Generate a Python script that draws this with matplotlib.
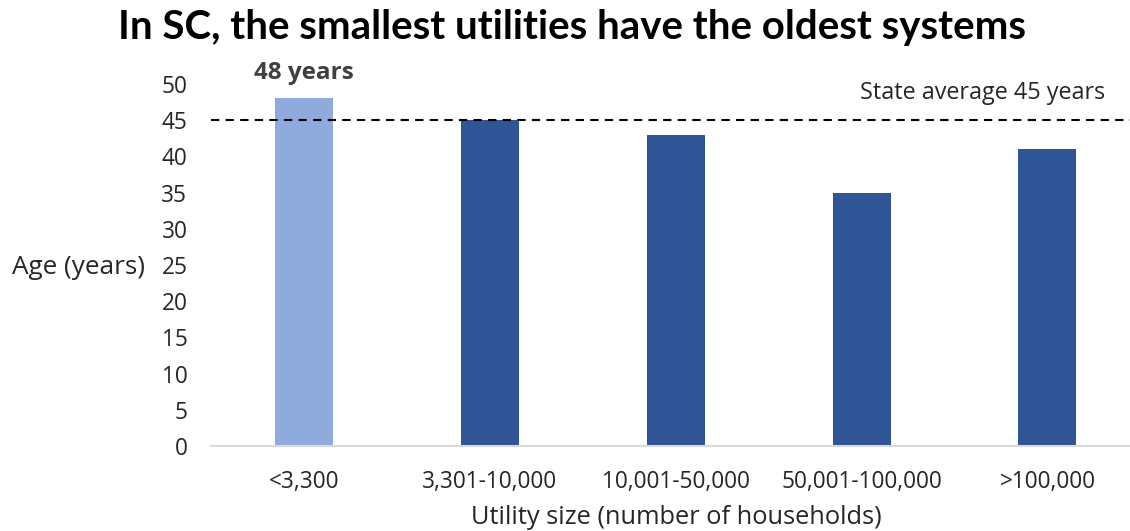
import matplotlib
matplotlib.use("Agg")
import matplotlib.pyplot as plt

categories = ["<3,300", "3,301-10,000", "10,001-50,000", "50,001-100,000", ">100,000"]
ages = [48, 45, 43, 35, 41]
state_average = 45
yticks = [0, 5, 10, 15, 20, 25, 30, 35, 40, 45, 50]

plt.rcParams['font.family'] = ['Open Sans', 'DejaVu Sans']

fig = plt.figure(figsize=(11.3, 5.31), dpi=100)
ax = fig.add_axes([211/1130, 1-446/531, 1-211/1130, (446-84)/531])

colors = ["#8FAADC"] + ["#2F5597"] * (len(ages) - 1)
x = list(range(len(categories)))
ax.bar(x, ages, width=0.312, color=colors, zorder=2)
ax.axhline(state_average, color="black", linestyle=(0, (4, 3)), linewidth=1.5, zorder=3)

ax.set_xlim(-0.5, 4.444)
ax.set_ylim(0, 50)
ax.set_yticks(yticks)
ax.set_xticks(x)
ax.set_xticklabels(categories)
ax.tick_params(axis='both', length=0, labelsize=16.3, colors="#262626")
ax.tick_params(axis='x', pad=17)
ax.tick_params(axis='y', pad=17)
for s in ["top", "right", "left"]:
    ax.spines[s].set_visible(False)
ax.spines["bottom"].set_color("#D9D9D9")
ax.spines["bottom"].set_linewidth(1.5)

ax.text(0, ages[0] + 1.8, f"{ages[0]} years", ha="center", va="bottom",
        fontsize=17.5, fontweight="bold", color="#404040")
ax.text(4.31, state_average + 2.1, f"State average {state_average} years", ha="right", va="bottom",
        fontsize=16.8, color="#262626")

fig.text(12/1130, 1-268/531, "Age (years)", ha="left", va="center", fontsize=18.8, color="#262626")
fig.text(676/1130, 1-517/531, "Utility size (number of households)", ha="center", va="center",
         fontsize=18.3, color="#262626")
fig.text(572/1130, 1-28/531, "In SC, the smallest utilities have the oldest systems",
         ha="center", va="center", fontsize=29, fontweight="bold", color="black",
         family=["Lato", "DejaVu Sans"])

fig.savefig("out.png", dpi=100)
